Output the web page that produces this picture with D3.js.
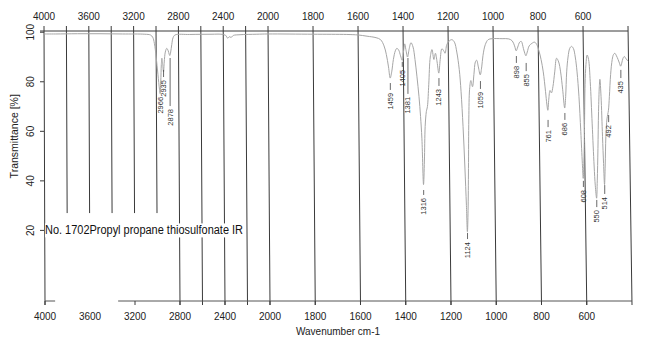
<!DOCTYPE html>
<head>
  <meta charset="utf-8">
  <title>No. 1702 Propyl propane thiosulfonate IR</title>
  <script type="text/javascript" src="https://cdn.jsdelivr.net/npm/d3@7"></script>
  <style>
    body { margin: 0; background: #fff; }
    text { font-family: "Liberation Sans", Arial, sans-serif; }
  </style>
</head>

<body>

<div id="container"></div>

<script>

  // spectrum: wavenumber (cm-1) and transmittance (%)
  let wavenumbers = [
    4000, 3900, 3700, 3500, 3300, 3100, 3050, 3030, 3015, 3000, 2985, 2972, 2966, 2960, 2954, 2949,
    2942, 2935, 2928, 2918, 2905, 2892, 2884, 2878, 2870, 2860, 2848, 2830, 2700, 2500, 2420, 2380,
    2360, 2345, 2330, 2310, 2250, 2100, 2000, 1800, 1650, 1600, 1560, 1520, 1500, 1485, 1475, 1466,
    1459, 1452, 1444, 1435, 1428, 1420, 1412, 1405, 1399, 1393, 1388, 1381, 1374, 1365, 1356, 1348,
    1340, 1332, 1326, 1321, 1316, 1311, 1306, 1300, 1295, 1288, 1280, 1272, 1264, 1257, 1250, 1243,
    1236, 1228, 1220, 1214, 1206, 1195, 1183, 1172, 1162, 1152, 1145, 1138, 1132, 1127, 1124, 1120,
    1116, 1112, 1107, 1101, 1094, 1087, 1080, 1074, 1067, 1059, 1052, 1046, 1035, 1022, 1005, 960,
    930, 915, 905, 898, 891, 882, 875, 866, 860, 855, 849, 840, 828, 816, 806, 797,
    788, 779, 770, 765, 761, 756, 750, 744, 737, 728, 719, 710, 702, 694, 686, 681,
    675, 668, 660, 652, 644, 636, 629, 622, 616, 611, 608, 604, 599, 594, 589, 583,
    577, 571, 565, 559, 555, 550, 546, 541, 536, 531, 528, 524, 520, 517, 514, 510,
    505, 499, 492, 487, 480, 472, 466, 460, 453, 446, 440, 435, 430, 424, 418, 412,
    406, 402
  ];

  let transmittance = [
    99.3, 99.3, 99.4, 99.4, 99.3, 99.2, 98.9, 98.0, 95.5, 90, 83, 77, 75.2, 80, 87, 89.5,
    87, 84, 88, 92, 93.5, 92.5, 91.2, 90.6, 92, 95, 97.8, 98.9, 99.1, 99.2, 99.2, 98.8,
    97.6, 98.2, 97.9, 98.7, 99.0, 99.2, 99.3, 99.2, 99.1, 98.9, 98.4, 97.8, 97.0, 94.5, 91, 86,
    81.5, 84, 89, 92.5, 93.5, 92.8, 90.5, 88.7, 92, 95.3, 93, 90, 93, 95.8, 94, 89,
    82, 74, 66, 57, 38.5, 48, 62, 68, 70, 79, 90, 93, 89, 91.5, 88, 83.5,
    89, 93.3, 92.5, 91.5, 95, 96.5, 97, 96, 92, 85, 76, 62, 46, 30, 19.5, 28,
    45, 65, 77, 80.5, 78, 83, 88, 88.7, 86, 82.8, 86, 90.5, 95, 97, 97.4, 97.4,
    97.3, 96.5, 94.5, 92.5, 94, 96, 96.3, 93.5, 91.5, 90.5, 92, 94.5, 95.5, 96, 95, 92.5,
    89, 84, 76, 71, 68.5, 73, 76.5, 75.5, 78, 84, 89.5, 88, 84, 77, 69.4, 74,
    84, 90, 93.5, 94.3, 93.5, 90, 84, 74, 60, 47, 41, 48, 63, 79, 87, 90.8,
    89, 80, 63, 46, 38, 33, 40, 53, 68, 78, 81, 74, 58, 47, 38.5, 46,
    58, 65, 68.5, 74, 83, 89, 91, 91.5, 90.5, 89, 87.5, 86.3, 87.5, 89.5, 90.2, 89.5,
    88.8, 88.3
  ];

  // peak picks: where each marker dash starts and where its label ends (both in %T)
  let peakWn = [2966, 2935, 2878, 1459, 1405, 1381, 1316, 1243, 1124, 1059, 898, 855, 761, 686, 608, 550, 514, 492, 435];
  let peakLineFrom = [75.5, 84.8, 89.6, 79.5, 88.0, 89.6, 36.3, 81.5, 19.0, 80.3, 90.4, 87.6, 64.6, 67.4, 40.0, 32.3, 38.3, 66.6, 84.8];
  let peakTextTop = [73.9, 80.7, 69.0, 75.5, 84.8, 73.9, 33.1, 77.1, 15.3, 75.9, 86.4, 83.1, 60.5, 63.4, 36.3, 28.2, 33.5, 62.5, 80.3];

  let xTickValues = [4000, 3600, 3200, 2800, 2400, 2000, 1800, 1600, 1400, 1200, 1000, 800, 600];
  let gridValues = [4000, 3800, 3600, 3400, 3200, 3000, 2800, 2600, 2400, 2200, 2000, 1800, 1600, 1400, 1200, 1000, 800, 600, 400];
  let shortGridValues = [3800, 3600, 3400, 3200, 3000];
  let shortGridEnd = 27;
  let yTickValues = [20, 40, 60, 80, 100];

  // pieces of the bottom rule that survived the scan
  let bottomRuleParts = [[4000, 3910], [3350, 400]];

  let svg_width = 650;
  let svg_height = 346;

  let svg = d3.select("#container").append("svg")
          .attr("width", svg_width)
          .attr("height", svg_height)
          .style("display", "block");

  // split scale (4000-2000 is compressed), top and bottom differ a bit because the scan is tilted
  let xTop = d3.scaleLinear()
          .domain([4000, 2000, 400])
          .range([44, 268, 628]);

  let xBottom = d3.scaleLinear()
          .domain([4000, 2000, 400])
          .range([45, 270, 632]);

  let yScale = d3.scaleLinear()
          .domain([-8.5, 100.5])
          .range([301, 31]);

  let plotTop = yScale(100.5);
  let plotBottom = yScale(-8.5);

  let xAt = function (w, t) {
    let f = (yScale(t) - plotTop) / (plotBottom - plotTop);
    return xTop(w) + f * (xBottom(w) - xTop(w));
  };

  let onBottomRule = function (v) {
    return bottomRuleParts.some(function (p) { return v <= p[0] && v >= p[1]; });
  };

  let ink = "#3a3a3a";

  // grid lines
  gridValues.forEach(function (g) {
    let isShort = shortGridValues.includes(g);
    let endT = isShort ? shortGridEnd : -8.5;
    svg.append("line")
            .attr("x1", xTop(g))
            .attr("y1", plotTop - 5)
            .attr("x2", xAt(g, endT))
            .attr("y2", isShort ? yScale(endT) : plotBottom + 4)
            .attr("stroke", ink)
            .attr("stroke-width", 1);
  });

  // frame top and bottom
  svg.append("line")
          .attr("x1", xTop(4000) - 4)
          .attr("x2", xTop(400))
          .attr("y1", plotTop)
          .attr("y2", plotTop)
          .attr("stroke", ink);

  bottomRuleParts.forEach(function (p) {
    svg.append("line")
            .attr("x1", xBottom(p[0]))
            .attr("x2", xBottom(p[1]))
            .attr("y1", plotBottom)
            .attr("y2", plotBottom)
            .attr("stroke", "#555");
  });

  // bottom tick marks on labelled values
  xTickValues.filter(onBottomRule).forEach(function (v) {
    svg.append("line")
            .attr("x1", xBottom(v))
            .attr("x2", xBottom(v))
            .attr("y1", plotBottom)
            .attr("y2", plotBottom + 4)
            .attr("stroke", ink);
  });

  // x labels, top and bottom
  svg.selectAll(".xTopLabel")
          .data(xTickValues)
          .enter()
          .append("text")
          .attr("class", "xTopLabel")
          .attr("x", function (d) { return xTop(d); })
          .attr("y", plotTop - 15)
          .attr("text-anchor", "middle")
          .attr("dominant-baseline", "central")
          .style("font-size", "10px")
          .style("fill", "#222")
          .text(function (d) { return d; });

  svg.selectAll(".xBottomLabel")
          .data(xTickValues)
          .enter()
          .append("text")
          .attr("class", "xBottomLabel")
          .attr("x", function (d) { return xBottom(d); })
          .attr("y", plotBottom + 15)
          .attr("text-anchor", "middle")
          .attr("dominant-baseline", "central")
          .style("font-size", "10px")
          .style("fill", "#222")
          .text(function (d) { return d; });

  // y ticks and rotated labels
  yTickValues.forEach(function (v) {
    svg.append("line")
            .attr("x1", xTop(4000) - 4)
            .attr("x2", xTop(4000))
            .attr("y1", yScale(v))
            .attr("y2", yScale(v))
            .attr("stroke", ink);

    svg.append("text")
            .attr("transform", "translate(" + (xTop(4000) - 14) + "," + yScale(v) + ") rotate(-90)")
            .attr("text-anchor", "middle")
            .attr("dominant-baseline", "central")
            .style("font-size", "10px")
            .style("fill", "#222")
            .text(v);
  });

  svg.append("text")
          .attr("transform", "translate(14," + yScale(58) + ") rotate(-90)")
          .attr("text-anchor", "middle")
          .attr("dominant-baseline", "central")
          .style("font-size", "10.5px")
          .style("fill", "#222")
          .text("Transmittance [%]");

  svg.append("text")
          .attr("x", xBottom(2000) + 68)
          .attr("y", plotBottom + 30)
          .attr("text-anchor", "middle")
          .attr("dominant-baseline", "central")
          .style("font-size", "10px")
          .style("fill", "#222")
          .text("Wavenumber cm-1");

  // the spectrum
  let spectrum = wavenumbers.map(function (w, i) { return [w, transmittance[i]]; });

  svg.append("path")
          .datum(spectrum)
          .attr("fill", "none")
          .attr("stroke", "#a6a6a6")
          .attr("stroke-width", 1)
          .attr("d", d3.line()
                  .x(function (d) { return xAt(d[0], d[1]); })
                  .y(function (d) { return yScale(d[1]); })
                  .curve(d3.curveCatmullRom.alpha(0.5))
          );

  // peak markers and labels
  peakWn.forEach(function (w, i) {
    let x = xAt(w, peakTextTop[i]);
    let yLine = yScale(peakLineFrom[i]);
    let yText = yScale(peakTextTop[i]);

    if (yText - 3 - yLine > 1) {
      svg.append("line")
              .attr("x1", x)
              .attr("x2", x)
              .attr("y1", yLine)
              .attr("y2", yText - 3)
              .attr("stroke", "#444")
              .attr("stroke-width", 0.8);
    }

    svg.append("text")
            .attr("transform", "translate(" + x + "," + yText + ") rotate(-90)")
            .attr("text-anchor", "end")
            .attr("dominant-baseline", "central")
            .style("font-size", "7.5px")
            .style("fill", "#333")
            .text(w);
  });

  // caption box over the grid
  let caption = svg.append("text")
          .attr("x", xTop(4000) + 1)
          .attr("y", yScale(20))
          .attr("dominant-baseline", "central")
          .attr("textLength", 198)
          .attr("lengthAdjust", "spacingAndGlyphs")
          .style("font-size", "12px")
          .style("fill", "#111")
          .text("No. 1702Propyl propane thiosulfonate IR");

  let box = caption.node().getBBox();
  svg.insert("rect", function () { return caption.node(); })
          .attr("x", box.x)
          .attr("y", box.y)
          .attr("width", box.width + 2)
          .attr("height", box.height)
          .attr("fill", "#fff");

</script>

</body>
